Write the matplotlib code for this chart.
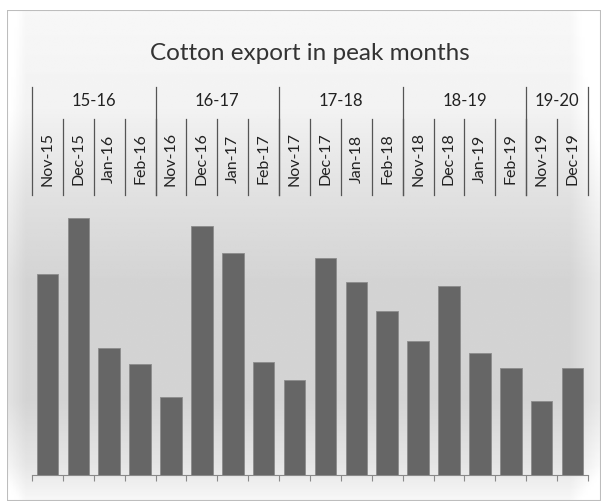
import numpy as np
import matplotlib.pyplot as plt
from matplotlib.patches import Rectangle
from matplotlib.transforms import blended_transform_factory

# cotton export, peak months of each season
seasons = ['15-16', '16-17', '17-18', '18-19', '19-20']
months = ['Nov-15', 'Dec-15', 'Jan-16', 'Feb-16',
          'Nov-16', 'Dec-16', 'Jan-17', 'Feb-17',
          'Nov-17', 'Dec-17', 'Jan-18', 'Feb-18',
          'Nov-18', 'Dec-18', 'Jan-19', 'Feb-19',
          'Nov-19', 'Dec-19']
season_size = [4, 4, 4, 4, 2]
export = [201, 257, 127, 111, 78, 249, 222, 113, 95, 217, 193, 164,
          134, 189, 122, 107, 74, 107]

W, H = 607, 503
plt.rcParams['font.family'] = ['Lato', 'DejaVu Sans']

fig = plt.figure(figsize=(W / 100, H / 100), dpi=100)
fig.patch.set_facecolor('white')

# chart area background with vertical shading
bg = fig.add_axes([7 / W, 1 - 501 / H, 594 / W, 491 / H])
bg.set_axis_off()
yy = np.linspace(0, 1, 200)[:, None]
shade = np.interp(yy, [0, 0.2, 0.38, 0.55, 0.8, 0.93, 1.0],
                  [0.97, 0.95, 0.88, 0.83, 0.83, 0.90, 0.97])
xx = np.linspace(0, 1, 200)[None, :]
edge = np.interp(xx, [0, 0.03, 0.95, 1.0], [0.06, 0.0, 0.0, 0.08])
img = np.clip(shade + edge, 0, 1)
bg.imshow(img, cmap='gray', vmin=0, vmax=1, aspect='auto',
          extent=[0, 1, 0, 1], origin='upper')
bg.set_xlim(0, 1)
bg.set_ylim(0, 1)
bg.add_patch(Rectangle((0, 0), 1, 1, transform=bg.transAxes, fill=False,
                       edgecolor='#bdbdbd', lw=1.5))

ax = fig.add_axes([32 / W, 1 - 475 / H, 556 / W, 275 / H])
ax.patch.set_alpha(0)
x = np.arange(len(months))
ax.bar(x, export, width=0.7, color='#666666', edgecolor='#8c8c8c',
       linewidth=0.6, zorder=3)
ax.set_xlim(-0.5, len(months) - 0.5)
ax.set_ylim(0, 275)
for s in ['top', 'right', 'left']:
    ax.spines[s].set_visible(False)
ax.spines['bottom'].set_color('#8a8a8a')
ax.set_yticks([])
ax.set_xticks(np.arange(len(months) + 1) - 0.5)
ax.tick_params(axis='x', length=4, color='#8a8a8a', labelbottom=False,
               direction='out')

# two-level category header above the bars
tr = blended_transform_factory(ax.transData, fig.transFigure)
fy = lambda p: 1 - p / H
for i, m in enumerate(months):
    ax.text(i, fy(159), m, transform=tr, rotation=90, ha='center',
            va='center', fontsize=11.5, color='#222222')
for i in range(1, len(months)):
    ax.plot([i - 0.5, i - 0.5], [fy(119), fy(195)], transform=tr,
            color='#555555', lw=0.9, clip_on=False)
start = 0
bounds = [0]
for name, n in zip(seasons, season_size):
    ax.text(start + n / 2 - 0.5, fy(101), name, transform=tr, ha='center',
            va='center', fontsize=12, color='#222222')
    start += n
    bounds.append(start)
for b in bounds:
    ax.plot([b - 0.5, b - 0.5], [fy(87), fy(195)], transform=tr,
            color='#555555', lw=0.9, clip_on=False)

fig.text(310 / W, fy(53), 'Cotton export in peak months', ha='center',
         va='center', fontsize=17.5, color='#333333')

fig.savefig('out.png', dpi=100)
